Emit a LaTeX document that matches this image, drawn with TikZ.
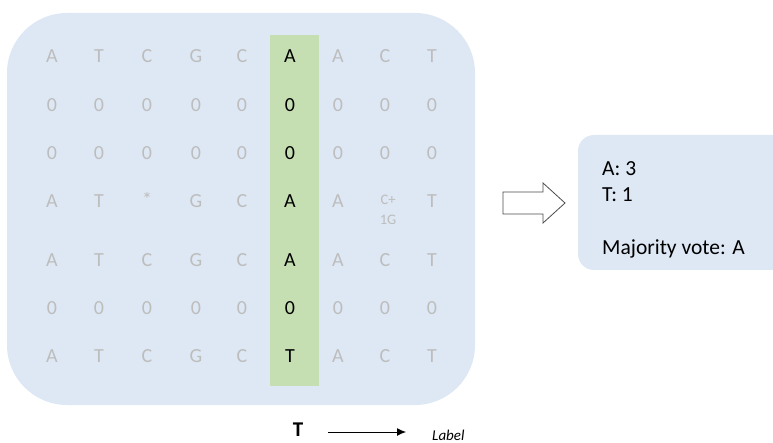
\documentclass[tikz,border=0pt]{standalone}
\usepackage{fontspec}
\setmainfont{Carlito}
\usetikzlibrary{arrows.meta}
\definecolor{panel}{HTML}{DEE8F4}
\definecolor{greencol}{HTML}{C5DFB3}
\definecolor{faint}{HTML}{BDBDBD}
\tikzset{
  cell/.style={text=faint,font=\fontsize{20}{20}\selectfont,inner sep=0pt,anchor=center},
  hcell/.style={text=black,font=\fontsize{20}{20}\selectfont,inner sep=0pt,anchor=center},
  info/.style={font=\fontsize{21.5}{21.5}\selectfont,anchor=base west,inner sep=0pt},
}
\begin{document}
\begin{tikzpicture}[x=1pt,y=-1pt]
\useasboundingbox (0,0) rectangle (773,443);
% panels
\fill[panel,rounded corners=60pt] (7,13) rectangle (475,405);
\fill[panel,rounded corners=16pt] (578,135) rectangle (800,270);
\node[fill=greencol,minimum width=49pt,minimum height=351pt,inner sep=0pt] (col) at (294.5,210.5) {};
% grid
\def\xs{{52,99,147,196,242,290,338,385,432}}
\foreach \r/\y/\row in {1/56/{A,T,C,G,C,A,A,C,T},
                        2/105/{0,0,0,0,0,0,0,0,0},
                        3/153/{0,0,0,0,0,0,0,0,0},
                        5/260/{A,T,C,G,C,A,A,C,T},
                        6/308/{0,0,0,0,0,0,0,0,0},
                        7/356/{A,T,C,G,C,T,A,C,T}}{
  \foreach \t [count=\c] in \row {
    \pgfmathsetmacro{\xx}{\xs[\c-1]}
    \ifnum\c=6
      \node[hcell] (g\r-\c) at (\xx,\y) {\t};
    \else
      \node[cell] (g\r-\c) at (\xx,\y) {\t};
    \fi
  }
}
% row 4
\node[cell] (g4-1) at (52,201) {A};
\node[cell] (g4-2) at (99,201) {T};
\node[cell] (g4-3) at (147,199) {*};
\node[cell] (g4-4) at (196,201) {G};
\node[cell] (g4-5) at (242,201) {C};
\node[hcell] (g4-6) at (290,201) {A};
\node[cell] (g4-7) at (338,201) {A};
\node[cell,font=\fontsize{14.5}{14.5}\selectfont] (g4-8a) at (388,200) {C+};
\node[cell,font=\fontsize{14.5}{14.5}\selectfont] (g4-8b) at (388,219.5) {1G};
\node[cell] (g4-9) at (432,201) {T};
% block arrow
\draw[draw=black!70,fill=white,line width=0.8pt,line join=miter]
  (503,192) -- (543,192) -- (543,183) -- (565,203) -- (543,223) -- (543,214) -- (503,214) -- cycle;
% info text
\node[info] (a3) at (602,176) {A: 3};
\node[info] (t1) at (602,202) {T: 1};
\node[info] (mv) at (602,255) {Majority vote: A};
% bottom
\node[font=\bfseries\fontsize{21}{21}\selectfont,inner sep=0pt] (T) at (298,430) {T};
\node[font=\itshape\fontsize{15}{15}\selectfont,inner sep=0pt,anchor=base west] (lab) at (432,440) {Label};
\coordinate (s) at (328,432);
\coordinate (e) at (406,432);
\draw[line width=0.9pt,-{Latex[length=9pt,width=8pt]}] (s) -- (e);
\end{tikzpicture}
\end{document}
